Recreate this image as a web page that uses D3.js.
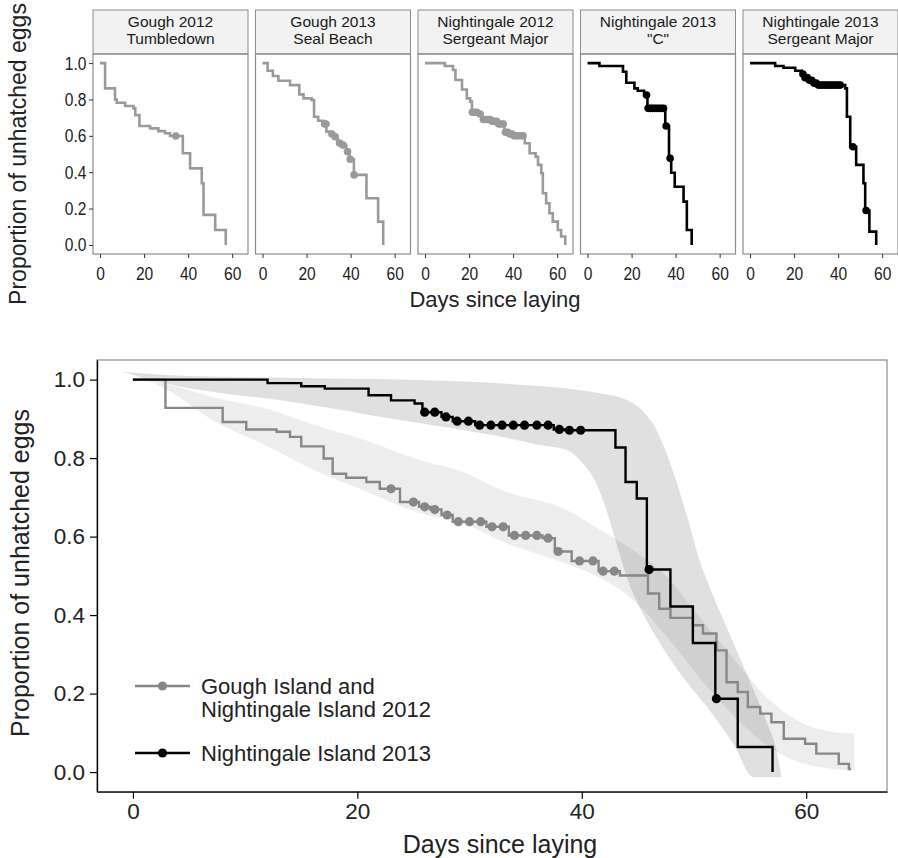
<!DOCTYPE html>
<html>
<head>
<meta charset="utf-8">
<script src="https://cdn.jsdelivr.net/npm/d3@7"></script>
<style>
  body { margin: 0; background: #fff; }
  svg { display: block; font-family: "Liberation Sans", Arial, sans-serif; }
</style>
</head>
<body>
<div id="chart"></div>
<script>
// ---------- data ----------
const xTicks = [0, 20, 40, 60];
const yTicks = [0, 0.2, 0.4, 0.6, 0.8, 1.0];
const xTitle = 'Days since laying';
const yTitle = 'Proportion of unhatched eggs';

// small panels: one colony each
const stripTitles = [
    ['Gough 2012', 'Tumbledown'],
    ['Gough 2013', 'Seal Beach'],
    ['Nightingale 2012', 'Sergeant Major'],
    ['Nightingale 2013', '"C"'],
    ['Nightingale 2013', 'Sergeant Major']
];
const stripGroup = ['grey', 'grey', 'grey', 'black', 'black'];

const p1Times = [0, 2.3, 6.8, 7.6, 11.4, 15.2, 16, 17.9, 22.7, 26.5, 29.5, 31.8, 37.6, 40.9, 46.2, 47, 52.3, 57.1];
const p1Surv = [1, 0.861, 0.8, 0.782, 0.764, 0.751, 0.714, 0.654, 0.641, 0.626, 0.614, 0.599, 0.504, 0.421, 0.339, 0.165, 0.082, 0.0];
const p1Censor = [34.4];

const p2Times = [0, 2.3, 4.7, 7.2, 12.5, 16.7, 18.6, 22.3, 23.4, 25.3, 27.6, 29, 31, 32.5, 34, 36, 38, 39.5, 41.5, 47.2, 52.5, 54.8];
const p2Surv = [1, 0.958, 0.929, 0.903, 0.879, 0.828, 0.806, 0.797, 0.705, 0.683, 0.665, 0.623, 0.61, 0.595, 0.56, 0.549, 0.513, 0.471, 0.385, 0.257, 0.128, 0.0];
const p2Censor = [28.2, 28.8, 31.5, 33, 35, 36.5, 38.6, 39.8, 41.6];

const p3Times = [0, 9, 12.7, 13.8, 16.8, 19, 20.5, 21.3, 24, 26, 30, 33, 36, 38, 40, 45.3, 47.5, 50.2, 51.3, 52.8, 53.5, 55, 56.5, 58, 60.3, 61.8, 63.7];
const p3Surv = [1, 0.984, 0.962, 0.907, 0.855, 0.806, 0.788, 0.73, 0.72, 0.69, 0.68, 0.665, 0.62, 0.61, 0.6, 0.559, 0.504, 0.485, 0.44, 0.394, 0.284, 0.229, 0.174, 0.128, 0.082, 0.046, 0.0];
const p3Censor = [21.5, 22.5, 23.5, 25, 26.5, 27.5, 28.5, 29.5, 30.5, 31.5, 32.5, 33.5, 34.5, 35.5, 36.5, 37.5, 38.5, 39.5, 40.5, 41.5, 42.5, 43.5, 44.5];

const p4Times = [0, 5.4, 16.1, 17.6, 21.3, 22.8, 25.7, 27.2, 35.3, 37, 38, 39.6, 43.6, 45.1, 47.3];
const p4Surv = [1, 0.984, 0.952, 0.892, 0.861, 0.848, 0.824, 0.751, 0.654, 0.476, 0.397, 0.32, 0.238, 0.082, 0.0];
const p4Censor = [26.8, 27.5, 28.5, 29.5, 30.5, 31.5, 32.5, 33.5, 34.5, 35.7, 37.5];

const p5Times = [0, 11.4, 15.2, 20.5, 23.5, 24.5, 27, 29, 31, 43.2, 44, 45.5, 48.2, 51.5, 52.3, 54.2, 57.3];
const p5Surv = [1, 0.984, 0.974, 0.958, 0.94, 0.92, 0.905, 0.89, 0.879, 0.861, 0.705, 0.54, 0.44, 0.339, 0.189, 0.073, 0.0];
const p5Censor = [24, 25, 26, 27, 28, 29, 30, 31, 32, 33, 34, 35, 36, 37, 38, 39, 40, 41, 46.7, 52.7];

// pooled curves
const legendLabels = [['Gough Island and', 'Nightingale Island 2012'], ['Nightingale Island 2013']];

const greyTimes = [0, 2.9, 8.0, 10.1, 12.8, 14.0, 15.0, 17.0, 17.8, 19.0, 20.8, 22.0, 23.8, 25.5, 26.5, 27.5, 28.5, 31.5, 33.5, 36.5, 37.6, 39.1, 41.5, 43.4, 45.9, 46.9, 47.9, 49.9, 50.8, 52.0, 52.9, 53.9, 54.8, 55.9, 56.9, 58.0, 59.9, 60.9, 62.9, 63.8];
const greySurv = [1, 0.928, 0.892, 0.873, 0.867, 0.854, 0.830, 0.799, 0.760, 0.750, 0.739, 0.722, 0.688, 0.676, 0.669, 0.655, 0.638, 0.625, 0.603, 0.596, 0.562, 0.538, 0.512, 0.501, 0.455, 0.416, 0.393, 0.374, 0.353, 0.310, 0.229, 0.204, 0.166, 0.149, 0.127, 0.085, 0.072, 0.047, 0.021, 0.008];
const greyEnd = 64;
const greyCensor = [23.0, 25.0, 26.0, 26.9, 28.0, 29.0, 30.0, 31.0, 32.0, 33.0, 34.0, 35.0, 36.0, 37.0, 37.9, 39.8, 41.0, 41.9, 42.9];

const blackTimes = [0, 12, 15, 17.1, 21, 23, 25.1, 25.8, 27.5, 28.5, 30.5, 37.5, 38.5, 43.0, 43.9, 44.9, 45.8, 47.9, 49.9, 51.9, 53.9, 57.0];
const blackSurv = [1, 0.991, 0.983, 0.977, 0.960, 0.947, 0.939, 0.917, 0.905, 0.894, 0.884, 0.873, 0.871, 0.827, 0.739, 0.697, 0.516, 0.422, 0.329, 0.187, 0.064, 0.0];
const blackEnd = 57.0;
const blackCensor = [26.0, 26.9, 27.9, 28.9, 29.9, 30.9, 31.9, 32.9, 33.9, 34.9, 36.0, 37.0, 38.0, 38.9, 39.9, 46.0, 52.0];

// confidence bands of the fitted curves
const greyBandUpDays = [-0.9, 3, 7.2, 12, 16.1, 20.8, 25, 29.8, 32.7, 38.7, 41.6, 44.6, 47.6, 50.5, 53.5, 56.5, 59.4, 62.4, 64.3];
const greyBandUp = [1.02, 0.99, 0.955, 0.925, 0.885, 0.845, 0.8, 0.76, 0.72, 0.667, 0.618, 0.565, 0.497, 0.395, 0.29, 0.19, 0.128, 0.102, 0.098];
const greyBandLoDays = [-0.9, 3, 7.2, 12, 16.1, 20.8, 25, 29.8, 32.7, 38.7, 41.6, 44.6, 47.6, 50.5, 53.5, 56.5, 59.4, 62.4, 64.3];
const greyBandLo = [1.02, 0.975, 0.895, 0.83, 0.77, 0.715, 0.665, 0.63, 0.59, 0.53, 0.495, 0.438, 0.344, 0.24, 0.145, 0.068, 0.025, 0.008, 0.004];

const blackBandUpDays = [-0.9, 3, 15, 24, 33, 41.6, 44.0, 45.5, 46.4, 47.3, 48.2, 49.4, 50.5, 51.7, 52.9, 54.1, 55.3, 56.5, 57.4, 57.8];
const blackBandUp = [1.02, 1.012, 1.004, 1.0, 0.99, 0.965, 0.948, 0.918, 0.885, 0.83, 0.76, 0.65, 0.54, 0.45, 0.37, 0.29, 0.21, 0.125, 0.05, -0.013];
const blackBandLoDays = [-0.9, 3, 14.9, 23.8, 32.7, 36, 38.7, 40.1, 41.3, 42.2, 43.1, 44.0, 45.3, 47.0, 49.0, 51.4, 53.5, 55.3, 56.5, 57.8];
const blackBandLo = [1.02, 0.99, 0.94, 0.897, 0.855, 0.835, 0.82, 0.786, 0.735, 0.667, 0.582, 0.497, 0.412, 0.327, 0.242, 0.157, 0.072, -0.013, -0.013, -0.013];

// ---------- helpers ----------
const W = 898, H = 858;
const GREY_TOP = '#9a9a9a';
const GREY_MAIN = '#878787';
const TEXT = '#222';
const FONT = '"Liberation Sans", Arial, sans-serif';

function stepPoints(times, surv, end) {
    const pts = times.map((t, i) => [t, surv[i]]);
    pts.push([end, surv[surv.length - 1]]);
    return pts;
}

function survAt(times, surv, t) {
    let v = surv[0];
    times.forEach((tt, i) => { if (tt <= t) v = surv[i]; });
    return v;
}

function bandPoints(upDays, up, loDays, lo) {
    return up.map((u, i) => ({ xu: upDays[i], yu: u, xl: loDays[i], yl: lo[i] }));
}

const svg = d3.select('#chart')
    .append('svg')
    .attr('width', W)
    .attr('height', H);

svg.append('defs').append('clipPath').attr('id', 'topClip')
    .append('rect').attr('x', 0).attr('y', 0).attr('width', W).attr('height', 312);

// ---------- top: small multiples ----------
const topG = svg.append('g').attr('clip-path', 'url(#topClip)');
const SQ = 0.82; // the top figure's tick numbers are narrow

const panels = [
    { times: p1Times, surv: p1Surv, censor: p1Censor },
    { times: p2Times, surv: p2Surv, censor: p2Censor },
    { times: p3Times, surv: p3Surv, censor: p3Censor },
    { times: p4Times, surv: p4Surv, censor: p4Censor },
    { times: p5Times, surv: p5Surv, censor: p5Censor }
];

const pTop = 54, pBottom = 254, pWidth = 155, pStep = 162.5, pLeft0 = 93;
const yTop = d3.scaleLinear().domain([-0.05, 1.05]).range([pBottom, pTop]);

panels.forEach((p, i) => {
    const left = pLeft0 + i * pStep;
    const x = d3.scaleLinear().domain([-3.2, 67.2]).range([left, left + pWidth]);
    const col = stripGroup[i] === 'grey' ? GREY_TOP : '#000';

    // strip
    topG.append('rect')
        .attr('x', left).attr('y', 10)
        .attr('width', pWidth).attr('height', pTop - 10)
        .attr('fill', '#f2f2f2')
        .attr('stroke', '#8c8c8c')
        .attr('stroke-width', 1);
    stripTitles[i].forEach((s, k) => {
        topG.append('text')
            .attr('x', left + pWidth / 2)
            .attr('y', 27 + k * 17)
            .attr('text-anchor', 'middle')
            .attr('font-size', '15.5px')
            .attr('fill', '#1a1a1a')
            .text(s);
    });

    // curve
    const line = d3.line()
        .x(d => x(d[0]))
        .y(d => yTop(d[1]))
        .curve(d3.curveStepAfter);
    topG.append('path')
        .datum(stepPoints(p.times, p.surv, p.times[p.times.length - 1]))
        .attr('fill', 'none')
        .attr('stroke', col)
        .attr('stroke-width', 2.6)
        .attr('d', line);

    topG.selectAll(null)
        .data(p.censor)
        .enter()
        .append('circle')
        .attr('cx', d => x(d))
        .attr('cy', d => yTop(survAt(p.times, p.surv, d)))
        .attr('r', 3.8)
        .attr('fill', col);

    // panel border
    topG.append('rect')
        .attr('x', left).attr('y', pTop)
        .attr('width', pWidth).attr('height', pBottom - pTop)
        .attr('fill', 'none')
        .attr('stroke', '#8c8c8c')
        .attr('stroke-width', 1.2);

    // x axis
    const ax = topG.append('g')
        .attr('transform', `translate(0,${pBottom})`)
        .call(d3.axisBottom(x).tickValues(xTicks).tickSize(4).tickSizeOuter(0).tickPadding(9));
    ax.select('.domain').remove();
    ax.selectAll('line').attr('stroke', '#333');
    ax.selectAll('text')
        .attr('font-size', '19px')
        .attr('font-family', FONT)
        .attr('fill', TEXT)
        .attr('transform', `scale(${SQ},1)`);

    if (i === 0) {
        const ay = topG.append('g')
            .attr('transform', `translate(${left},0)`)
            .call(d3.axisLeft(yTop).tickValues(yTicks).tickFormat(d3.format('.1f')).tickSize(4).tickSizeOuter(0).tickPadding(4));
        ay.select('.domain').remove();
        ay.selectAll('line').attr('stroke', '#333');
        ay.selectAll('text')
            .attr('font-size', '19px')
            .attr('font-family', FONT)
            .attr('fill', TEXT)
            .attr('transform', `scale(${SQ},1)`);
    }
});

topG.append('text')
    .attr('x', 495)
    .attr('y', 307)
    .attr('text-anchor', 'middle')
    .attr('font-size', '22px')
    .attr('fill', TEXT)
    .text(xTitle);

topG.append('text')
    .attr('transform', 'translate(26,154) rotate(-90)')
    .attr('text-anchor', 'middle')
    .attr('font-size', '23px')
    .attr('fill', TEXT)
    .text(yTitle);

// ---------- bottom: pooled curves ----------
const mLeft = 97, mRight = 887, mTop = 360, mBottom = 791.7;
const x = d3.scaleLinear().domain([-3.2, 67.2]).range([mLeft, mRight]);
const y = d3.scaleLinear().domain([-0.05, 1.05]).range([mBottom, mTop]);
const main = svg.append('g');

const band = d3.area()
    .x1(d => x(d.xu)).y1(d => y(d.yu))
    .x0(d => x(d.xl)).y0(d => y(d.yl))
    .curve(d3.curveMonotoneX);

main.append('path')
    .datum(bandPoints(greyBandUpDays, greyBandUp, greyBandLoDays, greyBandLo))
    .attr('fill', '#000')
    .attr('fill-opacity', 0.07)
    .attr('d', band);

main.append('path')
    .datum(bandPoints(blackBandUpDays, blackBandUp, blackBandLoDays, blackBandLo))
    .attr('fill', '#000')
    .attr('fill-opacity', 0.12)
    .attr('d', band);

const stepLine = d3.line()
    .x(d => x(d[0]))
    .y(d => y(d[1]))
    .curve(d3.curveStepAfter);

const series = [
    { times: greyTimes, surv: greySurv, end: greyEnd, censor: greyCensor, color: GREY_MAIN },
    { times: blackTimes, surv: blackSurv, end: blackEnd, censor: blackCensor, color: '#000' }
];

series.forEach(s => {
    main.append('path')
        .datum(stepPoints(s.times, s.surv, s.end))
        .attr('fill', 'none')
        .attr('stroke', s.color)
        .attr('stroke-width', 2.4)
        .attr('d', stepLine);
});

series.forEach(s => {
    main.selectAll(null)
        .data(s.censor)
        .enter()
        .append('circle')
        .attr('cx', d => x(d))
        .attr('cy', d => y(survAt(s.times, s.surv, d)))
        .attr('r', 4.6)
        .attr('fill', s.color);
});

// frame
main.append('rect')
    .attr('x', mLeft).attr('y', mTop)
    .attr('width', mRight - mLeft).attr('height', mBottom - mTop)
    .attr('fill', 'none')
    .attr('stroke', '#8c8c8c')
    .attr('stroke-width', 1.2);

const axB = main.append('g')
    .attr('transform', `translate(0,${mBottom})`)
    .call(d3.axisBottom(x).tickValues(xTicks).tickSize(7).tickSizeOuter(0).tickPadding(4));
const axL = main.append('g')
    .attr('transform', `translate(${mLeft},0)`)
    .call(d3.axisLeft(y).tickValues(yTicks).tickFormat(d3.format('.1f')).tickSize(7).tickSizeOuter(0).tickPadding(5));
[axB, axL].forEach(a => {
    a.select('.domain').attr('stroke', '#000').attr('stroke-width', 1.3);
    a.selectAll('line').attr('stroke', '#000').attr('stroke-width', 1.2);
    a.selectAll('text')
        .attr('font-size', '22.5px')
        .attr('font-family', FONT)
        .attr('fill', TEXT);
});

main.append('text')
    .attr('x', 500)
    .attr('y', 853)
    .attr('text-anchor', 'middle')
    .attr('font-size', '25px')
    .attr('fill', TEXT)
    .text(xTitle);

main.append('text')
    .attr('transform', `translate(29,573) rotate(-90)`)
    .attr('text-anchor', 'middle')
    .attr('font-size', '25px')
    .attr('fill', TEXT)
    .text(yTitle);

// legend
const legendRows = [
    { y: 686, color: GREY_MAIN, lines: legendLabels[0] },
    { y: 753, color: '#000', lines: legendLabels[1] }
];
legendRows.forEach(r => {
    main.append('line')
        .attr('x1', 135).attr('x2', 190)
        .attr('y1', r.y).attr('y2', r.y)
        .attr('stroke', r.color)
        .attr('stroke-width', 2.4);
    main.append('circle')
        .attr('cx', 162.5).attr('cy', r.y)
        .attr('r', 4.6)
        .attr('fill', r.color);
    r.lines.forEach((t, k) => {
        main.append('text')
            .attr('x', 201)
            .attr('y', r.y + 7.5 + k * 23)
            .attr('font-size', '22px')
            .attr('fill', TEXT)
            .text(t);
    });
});
</script>
</body>
</html>
